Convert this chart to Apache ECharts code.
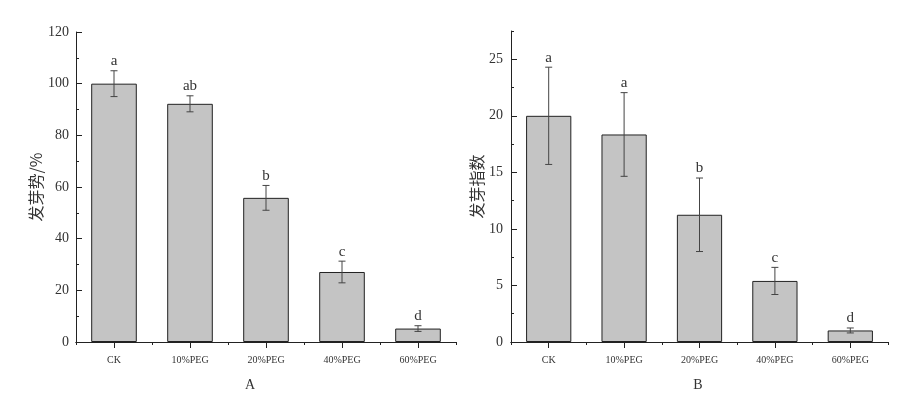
<!DOCTYPE html>
<html>
<head>
<meta charset="utf-8">
<script src="https://cdn.jsdelivr.net/npm/echarts@6/dist/echarts.min.js"></script>
<style>
html, body { margin: 0; padding: 0; background: #fff; }
#main { width: 902px; height: 397px; }
</style>
</head>
<body>
<div id="main"></div>
<script>
// data
const categories = ['CK', '10%PEG', '20%PEG', '40%PEG', '60%PEG']
const vigorMean = [100, 92.2, 55.8, 27.1, 5.2]
const vigorErr = [5.0, 3.1, 4.8, 4.2, 1.1]
const vigorLetters = ['a', 'ab', 'b', 'c', 'd']
const indexMean = [20.0, 18.35, 11.25, 5.4, 1.02]
const indexErr = [4.3, 3.7, 3.25, 1.2, 0.22]
const indexLetters = ['a', 'a', 'b', 'c', 'd']
const indexTicks = [0, 5, 10, 15, 20, 25]
const indexMinorTicks = [2.5, 7.5, 12.5, 17.5, 22.5, 27.5]

const serif = '"Liberation Serif", "DejaVu Serif", serif'
const cjk = '"Noto Sans CJK SC", sans-serif'
const ink = '#222'

const chart = echarts.init(document.getElementById('main'))

function errorData(mean, err, letters) {
    return mean.map((m, i) => [i, m, err[i], letters[i]])
}

function renderErr(params, api) {
    const i = api.value(0)
    const m = api.value(1)
    const e = api.value(2)
    const letter = params.seriesIndex === 1 ? vigorLetters[params.dataIndex] : indexLetters[params.dataIndex]
    const top = api.coord([i, m + e])
    const bot = api.coord([i, m - e])
    const half = 3.5
    const st = { stroke: '#444', lineWidth: 1 }
    return {
        type: 'group',
        children: [
            { type: 'line', shape: { x1: top[0], y1: top[1], x2: bot[0], y2: bot[1] }, style: st },
            { type: 'line', shape: { x1: top[0] - half, y1: top[1], x2: top[0] + half, y2: top[1] }, style: st },
            { type: 'line', shape: { x1: bot[0] - half, y1: bot[1], x2: bot[0] + half, y2: bot[1] }, style: st },
            {
                type: 'text', x: top[0], y: top[1] - 2,
                style: { text: letter, align: 'center', verticalAlign: 'bottom', font: '15px ' + serif, fill: '#333' }
            }
        ]
    }
}

function catAxis(grid, centerTicks) {
    return {
        type: 'category',
        gridIndex: grid,
        position: 'bottom',
        data: categories,
        axisLine: { show: true, lineStyle: { color: ink, width: 1 } },
        axisTick: { show: true, alignWithLabel: centerTicks, length: centerTicks ? 6 : 3, lineStyle: { color: ink } },
        axisLabel: { show: centerTicks, interval: 0, margin: 13, fontFamily: serif, fontSize: 10, color: '#333' },
        splitLine: { show: false }
    }
}

const option = {
    animation: false,
    backgroundColor: '#fff',
    grid: [
        { left: 76, top: 32, width: 380, height: 310 },
        { left: 511, top: 31, width: 377, height: 311 }
    ],
    xAxis: [catAxis(0, true), catAxis(0, false), catAxis(1, true), catAxis(1, false)],
    yAxis: [
        {
            type: 'value', gridIndex: 0, position: 'left',
            min: 0, max: 120, interval: 20,
            axisLine: { show: true, lineStyle: { color: ink } },
            axisTick: { show: true, inside: true, length: 6, lineStyle: { color: ink } },
            minorTick: { show: true, splitNumber: 2, length: 3, lineStyle: { color: ink } },
            axisLabel: { fontFamily: serif, fontSize: 14, color: '#333', margin: 7 },
            splitLine: { show: false },
            name: '发芽势/%', nameLocation: 'middle', nameGap: 30,
            nameTextStyle: { fontFamily: cjk, fontSize: 16, color: '#333' }
        },
        {
            type: 'value', gridIndex: 1, position: 'left',
            min: 0, max: 27.5,
            axisLine: { show: true, lineStyle: { color: ink } },
            axisTick: { show: true, inside: true, length: 6, customValues: indexTicks, lineStyle: { color: ink } },
            axisLabel: { customValues: indexTicks, fontFamily: serif, fontSize: 14, color: '#333', margin: 8 },
            splitLine: { show: false },
            name: '发芽指数', nameLocation: 'middle', nameGap: 23,
            nameTextStyle: { fontFamily: cjk, fontSize: 16, color: '#333' }
        },
        {
            type: 'value', gridIndex: 1, position: 'left',
            min: 0, max: 27.5,
            axisLine: { show: false },
            axisTick: { show: true, inside: true, length: 3, customValues: indexMinorTicks, lineStyle: { color: ink } },
            axisLabel: { show: false },
            splitLine: { show: false }
        }
    ],
    graphic: [
        { type: 'text', x: 250, y: 385, style: { text: 'A', align: 'center', verticalAlign: 'middle', font: '14px ' + serif, fill: '#333' } },
        { type: 'text', x: 698, y: 385, style: { text: 'B', align: 'center', verticalAlign: 'middle', font: '14px ' + serif, fill: '#333' } }
    ],
    series: [
        {
            type: 'bar', xAxisIndex: 0, yAxisIndex: 0, data: vigorMean, barWidth: '60%',
            itemStyle: { color: '#c4c4c4', borderColor: ink, borderWidth: 1 }
        },
        {
            type: 'custom', xAxisIndex: 0, yAxisIndex: 0, renderItem: renderErr,
            data: errorData(vigorMean, vigorErr, vigorLetters), encode: { x: 0, y: 1 }, z: 5
        },
        {
            type: 'bar', xAxisIndex: 2, yAxisIndex: 1, data: indexMean, barWidth: '60%',
            itemStyle: { color: '#c4c4c4', borderColor: ink, borderWidth: 1 }
        },
        {
            type: 'custom', xAxisIndex: 2, yAxisIndex: 1, renderItem: renderErr,
            data: errorData(indexMean, indexErr, indexLetters), encode: { x: 0, y: 1 }, z: 5
        }
    ]
}
chart.setOption(option)
</script>
</body>
</html>
